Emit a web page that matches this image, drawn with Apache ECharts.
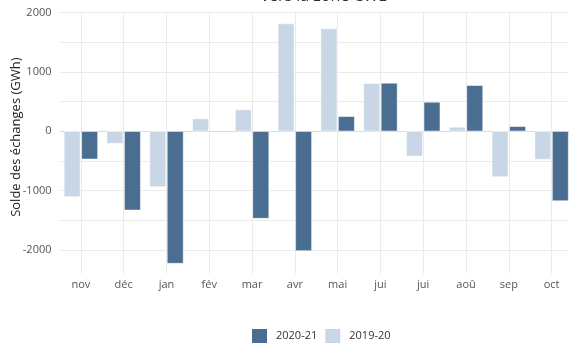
<!DOCTYPE html>
<html>
<head>
<meta charset="utf-8">
<script src="https://cdn.jsdelivr.net/npm/echarts@6/dist/echarts.min.js"></script>
<style>
  html, body { margin: 0; padding: 0; background: #fff; }
  #chart { width: 569px; height: 345px; }
</style>
</head>
<body>
<div id="chart"></div>
<script>
// Monthly exchange balance (GWh), November to October
const months = ['nov', 'déc', 'jan', 'fév', 'mar', 'avr', 'mai', 'jui', 'jui', 'aoû', 'sep', 'oct'];
const season1920 = [-1108, -208, -939, 214, 366, 1816, 1732, 810, -422, 73, -770, -477];
const season2021 = [-472, -1332, -2231, null, -1472, -2018, 253, 815, 494, 776, 84, -1176];
const seriesNames = ['2020-21', '2019-20'];

const DARK = '#4a6e91';
const LIGHT = '#c9d6e6';
const GRID = '#ebebeb';
const FONT = '"Open Sans", "DejaVu Sans", sans-serif';

const gridTop = 12.7;
const gridBottom = 71.4;
const plotHeight = 345 - gridTop - gridBottom;

const chart = echarts.init(document.getElementById('chart'), null, { renderer: 'canvas' });

chart.setOption({
  animation: false,
  textStyle: { fontFamily: FONT },
  title: {
    text: 'vers la zone CWE',
    left: 319,
    top: -17,
    textAlign: 'center',
    textStyle: { fontFamily: FONT, fontSize: 16, fontWeight: 'normal', color: '#333' }
  },
  legend: {
    data: seriesNames,
    top: 322,
    left: 245,
    itemWidth: 17,
    itemHeight: 16,
    itemGap: 6,
    icon: 'rect',
    textStyle: { fontFamily: FONT, fontSize: 11, color: '#333', padding: [0, 0, 0, 3] }
  },
  grid: {
    left: 59.5,
    right: -4,
    top: gridTop,
    bottom: gridBottom,
    containLabel: false,
    outerBoundsMode: 'none'
  },
  xAxis: {
    type: 'category',
    data: months,
    boundaryGap: true,
    axisLine: { show: false, onZero: false },
    axisTick: {
      show: true,
      inside: true,
      alignWithLabel: true,
      length: plotHeight,
      lineStyle: { color: GRID, width: 1 }
    },
    splitLine: { show: false },
    axisLabel: { color: '#555', fontSize: 11, margin: 6, fontFamily: FONT, interval: 0 }
  },
  yAxis: {
    type: 'value',
    min: -2400,
    max: 2000,
    minInterval: 500,
    maxInterval: 500,
    name: 'Solde des échanges (GWh)',
    nameLocation: 'middle',
    nameGap: 37,
    nameMoveOverlap: false,
    nameTextStyle: { fontFamily: FONT, fontSize: 13, color: '#222', padding: [0, 0, 0, 12] },
    axisLine: { show: false },
    axisTick: { show: false },
    axisLabel: {
      color: '#555',
      fontSize: 11,
      margin: 8,
      fontFamily: FONT,
      formatter: v => (v % 1000 === 0 ? String(v) : '')
    },
    splitLine: {
      show: true,
      lineStyle: {
        color: ['rgba(0,0,0,0)', GRID, GRID, GRID, GRID, '#dcdcdc', GRID, GRID, GRID, GRID],
        width: 1
      }
    }
  },
  series: [
    {
      name: '2019-20',
      type: 'bar',
      data: season1920,
      barWidth: 16.5,
      barGap: '6%',
      itemStyle: { color: LIGHT, borderColor: '#fff', borderWidth: 0.5 }
    },
    {
      name: '2020-21',
      type: 'bar',
      data: season2021,
      barWidth: 16.5,
      barGap: '6%',
      itemStyle: { color: DARK, borderColor: '#fff', borderWidth: 0.5 }
    }
  ]
});
</script>
</body>
</html>
